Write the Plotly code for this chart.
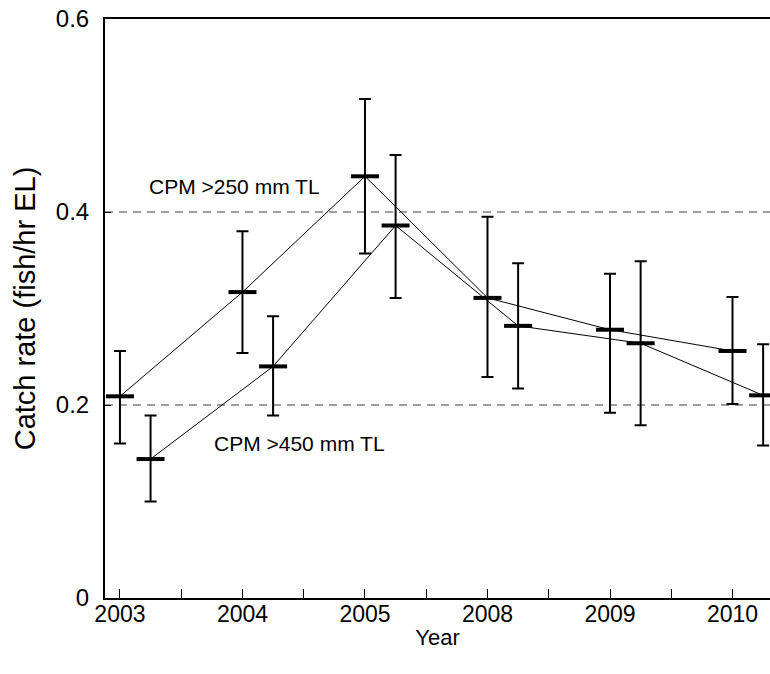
import plotly.graph_objects as go

years = ['2003', '2004', '2005', '2008', '2009', '2010']
# CPM > 250 mm TL
a_mean = [0.209, 0.317, 0.437, 0.311, 0.278, 0.256]
a_upper = [0.256, 0.380, 0.517, 0.395, 0.336, 0.312]
a_lower = [0.160, 0.254, 0.357, 0.229, 0.192, 0.201]
# CPM > 450 mm TL
b_mean = [0.144, 0.240, 0.386, 0.282, 0.264, 0.210]
b_upper = [0.189, 0.292, 0.459, 0.347, 0.349, 0.263]
b_lower = [0.100, 0.189, 0.311, 0.217, 0.179, 0.158]
ref_levels = [0.2, 0.4]
label_a = 'CPM >250 mm TL'
label_b = 'CPM >450 mm TL'

xa = list(range(len(years)))
xb = [i + 0.25 for i in xa]

FONT = 'Liberation Sans, Arial, sans-serif'

fig = go.Figure()

def add_series(x, mean, upper, lower):
    fig.add_trace(go.Scatter(
        x=x, y=mean, mode='lines',
        line=dict(color='black', width=1), hoverinfo='skip', showlegend=False))
    fig.add_trace(go.Scatter(
        x=x, y=mean, mode='markers',
        marker=dict(symbol='line-ew', size=20, color='black',
                    line=dict(color='black', width=4)),
        error_y=dict(type='data', symmetric=False,
                     array=[u - m for u, m in zip(upper, mean)],
                     arrayminus=[m - l for m, l in zip(mean, lower)],
                     color='black', thickness=2, width=6),
        showlegend=False))

add_series(xa, a_mean, a_upper, a_lower)
add_series(xb, b_mean, b_upper, b_lower)

for lv in ref_levels:
    fig.add_shape(type='line', xref='paper', x0=0, x1=1, yref='y', y0=lv, y1=lv,
                  line=dict(color='#808080', width=1.5, dash='8px,6px'), layer='below')

fig.add_annotation(x=0.22, y=0.426, text=label_a, showarrow=False, xanchor='left',
                   yanchor='middle', font=dict(family=FONT, size=21, color='black'))
fig.add_annotation(x=0.75, y=0.1606, text=label_b, showarrow=False, xanchor='left',
                   yanchor='middle', font=dict(family=FONT, size=21, color='black'))

tickvals = [i * 0.5 for i in range(11)]
ticktext = [years[i // 2] if i % 2 == 0 else '' for i in range(11)]

fig.update_layout(
    width=770, height=674,
    margin=dict(l=105, r=0, t=19, b=76),
    paper_bgcolor='white', plot_bgcolor='white',
    font=dict(family=FONT, color='black'),
    xaxis=dict(range=[-0.122, 5.306], tickmode='array', tickvals=tickvals,
               ticktext=ticktext, ticks='inside', ticklen=9, tickwidth=1,
               tickcolor='black', showline=True, linecolor='black', linewidth=2,
               mirror=True, showgrid=False, zeroline=False,
               tickfont=dict(size=23), ticklabelstandoff=-6,
               title=dict(text='Year', font=dict(size=22), standoff=4)),
    yaxis=dict(range=[0, 0.6], tickmode='array', tickvals=[0, 0.2, 0.4, 0.6],
               ticktext=['0', '0.2', '0.4', '0.6'], ticks='inside', ticklen=6,
               tickwidth=1, tickcolor='black', showline=True, linecolor='black',
               linewidth=2, showgrid=False, zeroline=False,
               tickfont=dict(size=24), ticklabelstandoff=9,
               title=dict(text='Catch rate (fish/hr EL)', font=dict(size=29), standoff=12)),
)

fig.write_html('out.html')
